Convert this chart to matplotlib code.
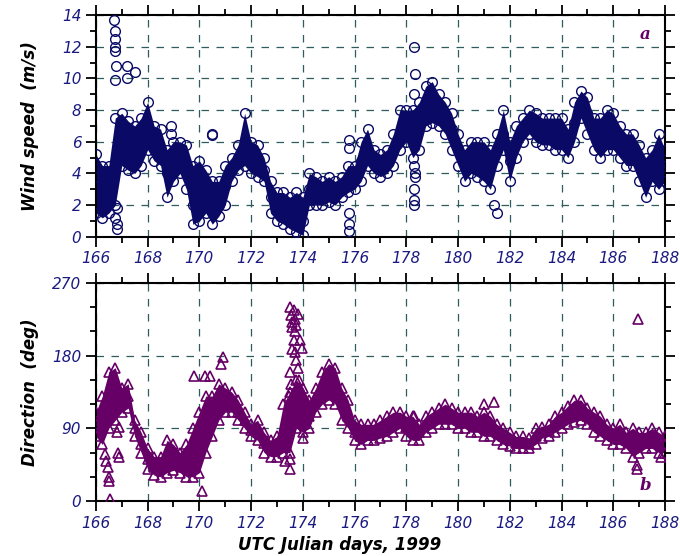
import numpy as np
import matplotlib
matplotlib.use("Agg")
import matplotlib.pyplot as plt
from matplotlib.ticker import MultipleLocator

# sampling every 6 h (low edge, middle, high edge of the band)
days = np.arange(166.0, 188.01, 0.25)

ws_lo = [1.5, 1.2, 1.5, 2.0, 4.5, 4.2, 4.0, 4.5, 5.5, 4.8, 4.5, 2.5, 3.5, 4.0, 3.0, 0.8,
         1.0, 1.5, 0.8, 1.3, 2.0, 3.5, 4.2, 4.5, 4.0, 3.8, 3.5, 1.5, 1.0, 0.8, 0.5, 0.3,
         0.1, 2.0, 2.0, 2.0, 2.2, 2.0, 2.5, 2.8, 3.0, 3.5, 4.5, 4.0, 3.8, 4.0, 4.5, 5.5,
         6.0, 5.0, 5.5, 7.0, 7.2, 7.0, 6.5, 5.5, 4.5, 3.5, 4.0, 3.8, 3.5, 3.0, 4.5, 5.5,
         3.5, 5.0, 6.0, 6.5, 6.0, 5.8, 5.8, 5.5, 5.5, 5.0, 6.0, 7.5, 6.5, 5.5, 5.0, 5.5,
         5.5, 5.0, 4.5, 4.5, 3.5, 2.5, 3.5, 3.0, 3.5]
ws_mid = [3.8, 3.0, 2.8, 4.5, 6.5, 5.8, 5.2, 6.0, 7.0, 5.8, 5.5, 4.0, 4.8, 5.0, 4.5, 2.0,
          2.5, 2.8, 1.8, 2.0, 3.2, 4.3, 5.0, 6.0, 5.0, 4.8, 4.2, 2.5, 1.8, 1.5, 1.2, 1.2,
          1.0, 3.0, 2.8, 2.8, 3.0, 2.8, 3.2, 3.5, 3.8, 4.8, 5.5, 4.7, 4.5, 4.8, 5.5, 6.5,
          7.0, 6.5, 7.0, 8.2, 8.5, 8.0, 7.5, 6.8, 5.5, 4.5, 5.0, 5.0, 4.8, 4.5, 5.5, 6.5,
          4.8, 6.0, 6.8, 7.2, 7.0, 6.8, 6.7, 6.5, 6.5, 6.0, 7.2, 8.5, 7.8, 6.5, 6.3, 7.0,
          6.8, 6.0, 5.8, 5.5, 4.8, 3.5, 4.2, 4.5, 4.5]
ws_hi = [5.2, 4.5, 4.5, 7.5, 7.8, 7.3, 7.0, 7.5, 8.5, 7.0, 6.8, 5.5, 6.0, 6.0, 5.8, 4.5,
         4.8, 4.2, 3.5, 3.5, 4.5, 5.0, 5.8, 7.8, 6.0, 5.8, 5.0, 3.5, 2.8, 2.8, 2.5, 2.8,
         2.5, 4.0, 3.8, 3.5, 3.8, 3.5, 3.8, 4.5, 4.5, 6.0, 6.8, 5.5, 5.2, 5.5, 6.5, 8.0,
         8.0, 8.0, 8.5, 9.5, 9.8, 9.0, 8.5, 7.8, 6.5, 5.5, 6.0, 6.0, 6.0, 5.5, 6.5, 8.0,
         6.0, 7.0, 7.5, 8.0, 7.8, 7.5, 7.5, 7.5, 7.5, 6.8, 8.5, 9.2, 8.8, 7.5, 7.5, 8.0,
         7.8, 7.0, 6.5, 6.5, 5.8, 5.0, 5.5, 6.5, 5.5]

# isolated wind speed points
ws_out_t = [166.7, 166.72, 166.73, 166.75, 166.75, 166.77, 166.75, 167.2, 167.2, 167.5,
            166.8, 166.75, 166.8, 166.8, 170.5, 170.5, 175.8, 175.8, 175.8, 175.8, 175.8,
            178.3, 178.35, 178.3, 178.3, 178.3, 178.28, 178.32, 178.3, 178.35,
            181.5, 181.4, 168.9, 168.9]
ws_out_v = [13.7, 13.0, 12.5, 12.0, 11.7, 10.8, 9.9, 10.8, 10.0, 10.4,
            1.8, 1.2, 0.8, 0.5, 6.5, 6.4, 6.1, 5.6, 1.5, 0.8, 0.4,
            12.0, 10.3, 9.0, 2.0, 2.3, 3.0, 3.8, 4.5, 4.0,
            1.5, 2.0, 7.0, 6.5]

wd_lo = [80, 70, 90, 100, 110, 115, 80, 60, 40, 32, 30, 35, 38, 35, 30, 30,
         35, 60, 80, 100, 110, 110, 100, 90, 80, 75, 60, 55, 55, 60, 60, 90,
         85, 90, 110, 120, 125, 120, 100, 90, 75, 70, 75, 75, 78, 80, 85, 90,
         80, 75, 75, 85, 90, 95, 95, 95, 90, 90, 85, 85, 80, 80, 75, 70,
         68, 65, 65, 65, 70, 78, 80, 85, 90, 95, 98, 100, 95, 85, 80, 75,
         70, 70, 65, 55, 60, 65, 65, 60, 60]
wd_mid = [95, 100, 120, 125, 125, 130, 90, 70, 52, 42, 42, 50, 52, 48, 50, 55,
          70, 90, 105, 120, 125, 120, 110, 100, 88, 85, 72, 65, 65, 85, 100, 120,
          110, 105, 125, 140, 150, 140, 120, 105, 85, 80, 82, 85, 88, 92, 97, 100,
          92, 88, 85, 95, 100, 105, 105, 105, 100, 100, 98, 95, 95, 92, 85, 80,
          75, 72, 72, 70, 80, 85, 87, 95, 100, 105, 112, 115, 105, 97, 92, 85,
          80, 80, 75, 72, 72, 75, 75, 72, 70]
wd_hi = [110, 130, 160, 165, 140, 145, 100, 85, 65, 55, 55, 75, 70, 60, 70, 90,
         110, 130, 130, 145, 140, 135, 125, 110, 95, 100, 85, 75, 80, 120, 135, 150,
         140, 125, 140, 160, 170, 165, 140, 125, 100, 95, 95, 95, 100, 105, 110, 110,
         105, 105, 95, 105, 110, 115, 120, 115, 110, 110, 110, 105, 110, 105, 95, 90,
         85, 80, 80, 78, 90, 92, 95, 105, 110, 118, 125, 125, 115, 110, 105, 95,
         90, 95, 85, 90, 85, 85, 90, 85, 80]

# isolated direction points
wd_out_t = [166.55, 166.5, 166.5, 166.45, 166.4, 166.35, 166.9, 166.85, 166.8, 166.9,
            170.1, 169.8, 170.2, 170.4, 170.85, 170.9, 173.5, 173.65, 173.8, 173.6,
            173.7, 173.9, 173.6, 173.55, 173.6, 173.65, 173.7, 173.75, 173.8, 173.85,
            173.5, 173.55, 173.9, 173.7, 173.75, 173.95, 173.45,
            173.3, 173.5, 173.5, 174.0, 181.0, 181.4, 186.95,
            186.9, 186.9, 178.3, 187.85]
wd_out_v = [2, 25, 30, 42, 50, 58, 55, 60, 85, 92,
            12, 155, 155, 155, 170, 178, 240, 236, 232, 222,
            210, 200, 188, 230, 215, 200, 185, 175, 165, 150,
            160, 145, 140, 225, 218, 190, 130,
            50, 52, 40, 78, 120, 122, 225,
            40, 45, 105, 55]

navy = "#0a0a66"
purple = "#660066"
gridc = "#2f5c5c"
tickc = "#1a1a80"

fig = plt.figure(figsize=(6.8, 5.56), dpi=100)
ax1 = fig.add_axes([0.141, 0.574, 0.837, 0.399])
ax2 = fig.add_axes([0.141, 0.099, 0.837, 0.392])

# dense overlapping records -> solid band between the edges
ax1.fill_between(days, ws_lo, ws_hi, color=navy, lw=0, zorder=2)
for band in (ws_lo, ws_mid, ws_hi):
    ax1.plot(days, band, ls="none", marker="o", ms=7, mfc="none", mec=navy, mew=1, zorder=3)
ax1.plot(ws_out_t, ws_out_v, ls="none", marker="o", ms=7, mfc="none", mec=navy, mew=1, zorder=3)

ax2.fill_between(days, wd_lo, wd_hi, color=purple, lw=0, zorder=2)
for band in (wd_lo, wd_mid, wd_hi):
    ax2.plot(days, band, ls="none", marker="^", ms=7, mfc="none", mec=purple, mew=1.2, zorder=3)
ax2.plot(wd_out_t, wd_out_v, ls="none", marker="^", ms=7, mfc="none", mec=purple, mew=1.2, zorder=3)

ax1.set_ylim(0, 14)
ax1.yaxis.set_major_locator(MultipleLocator(2))
ax1.yaxis.set_minor_locator(MultipleLocator(1))
ax2.set_ylim(0, 270)
ax2.yaxis.set_major_locator(MultipleLocator(90))
ax2.yaxis.set_minor_locator(MultipleLocator(30))

for ax in (ax1, ax2):
    ax.set_xlim(166, 188)
    ax.xaxis.set_major_locator(MultipleLocator(2))
    ax.xaxis.set_minor_locator(MultipleLocator(1))
    ax.grid(True, which="major", color=gridc, ls=(0, (6, 6)), lw=0.9, zorder=1)
    ax.set_axisbelow(True)
    ax.tick_params(which="both", direction="out", top=True, right=True, width=1.3,
                   labelsize=11, labelcolor=tickc)
    ax.tick_params(which="major", length=7)
    ax.tick_params(which="minor", length=4)
    for s in ax.spines.values():
        s.set_linewidth(1.5)
    for lab in ax.get_xticklabels() + ax.get_yticklabels():
        lab.set_fontstyle("italic")

ax1.set_ylabel("Wind speed  (m/s)", fontsize=12, fontweight="bold", fontstyle="italic")
ax2.set_ylabel("Direction  (deg)", fontsize=12, fontweight="bold", fontstyle="italic")
ax1.yaxis.set_label_coords(-0.1, 0.5)
ax2.yaxis.set_label_coords(-0.1, 0.5)

ax1.text(0.975, 0.89, "a", transform=ax1.transAxes, fontsize=12, fontweight="bold",
         fontstyle="italic", family="serif", color=purple, ha="right")
ax2.text(0.975, 0.05, "b", transform=ax2.transAxes, fontsize=12, fontweight="bold",
         fontstyle="italic", family="serif", color=purple, ha="right")

fig.text(0.5, 0.004, "UTC Julian days, 1999", fontsize=12, fontweight="bold",
         fontstyle="italic", ha="center", va="bottom")

fig.savefig("out.png", dpi=100)
